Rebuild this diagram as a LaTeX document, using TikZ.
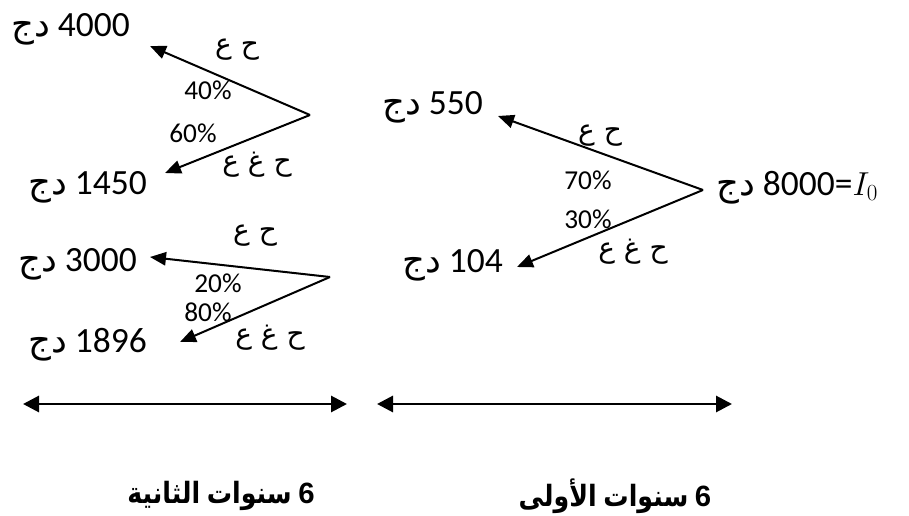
\documentclass[tikz,border=0pt]{standalone}
\usepackage{fontspec}
\setmainfont{Carlito}
\newfontfamily\ar[Script=Arabic]{DejaVu Sans}
\newfontfamily\arc[Script=Arabic,FakeStretch=0.86]{DejaVu Sans}
\newfontfamily\lsb{Liberation Sans}
\TeXXeTstate=1
\usetikzlibrary{arrows.meta}
\newcommand{\djx}{{\ar\beginR دج\endR}}
\newcommand{\hgx}{{\ar\beginR ح ع\endR}}
\newcommand{\hggx}{{\ar\beginR ح غ ع\endR}}
\begin{document}
\begin{tikzpicture}[x=0.75pt,y=-0.75pt,
  val/.style={inner sep=0pt,anchor=base east,font=\fontsize{26.6}{30}\selectfont},
  pct/.style={inner sep=0pt,font=\fontsize{20.5}{24}\selectfont},
  lab/.style={inner sep=0pt,font=\fontsize{21}{24}\selectfont},
  branch/.style={line width=1.5pt,-{Triangle[length=12pt,width=10pt]}},
  span/.style={line width=2.2pt,{Triangle[length=12pt,width=12pt]}-{Triangle[length=12pt,width=12pt]}},
  bot/.style={inner sep=0pt,font=\fontsize{22}{26}\selectfont\bfseries}]
\useasboundingbox (0,0) rectangle (909,516);
% top-left group
\coordinate (a1) at (310,115);
\coordinate (t1) at (150,46);
\coordinate (t2) at (165,173);
\node[val] (v4000) at (130,37) {\djx~4000};
\node[val] (v1450) at (147,195) {\djx~1450};
\draw[branch] (a1) -- (t1);
\draw[branch] (a1) -- (t2);
\node[lab] (l1) at (237,50) {\hgx};
\node[pct] (p40) at (208,90) {40\%};
\node[pct] (p60) at (193,133) {60\%};
\node[lab] (l2) at (257,165) {\hggx};
% lower-left group
\coordinate (a2) at (330,277);
\coordinate (t3) at (150,257);
\coordinate (t4) at (180,342);
\node[val] (v3000) at (137,272) {\djx~3000};
\node[val] (v1896) at (147,352) {\djx~1896};
\draw[branch] (a2) -- (t3);
\draw[branch] (a2) -- (t4);
\node[lab] (l3) at (255,236) {\hgx};
\node[pct] (p20) at (218,283) {20\%};
\node[pct] (p80) at (208,312) {80\%};
\node[lab] (l4) at (270,338) {\hggx};
% right group
\coordinate (a3) at (703,190);
\coordinate (t5) at (498,116);
\coordinate (t6) at (517,267);
\node[val] (v550) at (483,115) {\djx~550};
\node[val] (v104) at (503,273) {\djx~104};
\node[val,anchor=base west] (v8000) at (716,196) {\djx~8000=$I_0$};
\draw[branch] (a3) -- (t5);
\draw[branch] (a3) -- (t6);
\node[lab] (l5) at (600,136) {\hgx};
\node[pct] (p70) at (588,180) {70\%};
\node[pct] (p30) at (588,219) {30\%};
\node[lab] (l6) at (633,252) {\hggx};
% spans
\coordinate (s1) at (23,404);
\coordinate (s2) at (347,404);
\coordinate (s3) at (377,404);
\coordinate (s4) at (732,404);
\draw[span] (s1) -- (s2);
\draw[span] (s3) -- (s4);
\node[bot] (b1) at (221,496) {{\arc\bfseries\beginR الثانية\endR} {\arc\bfseries\beginR سنوات\endR} {\lsb 6}};
\node[bot] (b2) at (615,496) {{\arc\bfseries\beginR الأولى\endR} {\arc\bfseries\beginR سنوات\endR} {\lsb 6}};
\end{tikzpicture}
\end{document}
